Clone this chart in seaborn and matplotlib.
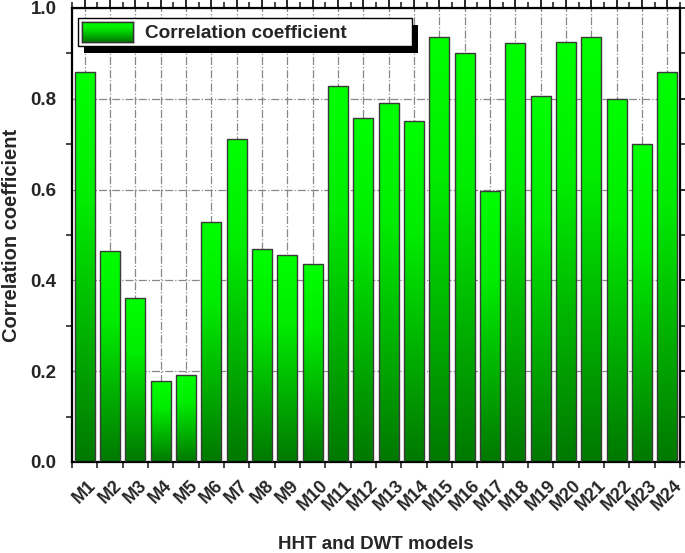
import matplotlib
matplotlib.use('Agg')
import matplotlib.pyplot as plt
import seaborn as sns
import numpy as np
import pandas as pd
from matplotlib.colors import LinearSegmentedColormap
from matplotlib.patches import Rectangle
from matplotlib.ticker import MultipleLocator, FixedLocator

models = ['M%d' % i for i in range(1, 25)]
corr = [0.858, 0.465, 0.361, 0.178, 0.192, 0.529, 0.711, 0.470, 0.456, 0.436,
        0.828, 0.758, 0.790, 0.750, 0.937, 0.901, 0.597, 0.923, 0.807, 0.926,
        0.937, 0.800, 0.701, 0.858]

df = pd.DataFrame({'model': models, 'corr': corr})

sns.set_style('white')
plt.rcParams['font.family'] = ['Liberation Sans', 'DejaVu Sans']
plt.rcParams['font.weight'] = 'bold'

green = LinearSegmentedColormap.from_list(
    'grn', ['#007800', '#00b200', '#00ec00', '#00ff00'])
grad = np.linspace(0, 1, 256).reshape(-1, 1)

fig = plt.figure(figsize=(6.85, 5.53), dpi=100)
ax = fig.add_axes([0.1051, 0.1646, 0.8876, 0.821])

sns.barplot(data=df, x='model', y='corr', ax=ax, color='#00ff00',
            width=0.79, edgecolor='#3a3a3a', linewidth=1.0, zorder=3)

# gradient fill for every bar
for p in ax.patches:
    x, y = p.get_x(), p.get_y()
    w, h = p.get_width(), p.get_height()
    im = ax.imshow(grad, cmap=green, origin='lower', aspect='auto',
                   extent=[x, x + w, y, y + h], zorder=2.5)
    im.set_clip_path(p)
    p.set_facecolor('none')

ax.set_xlim(-0.5, len(models) - 0.5)
ax.set_ylim(0, 1.0)

ax.yaxis.set_major_locator(MultipleLocator(0.2))
ax.yaxis.set_minor_locator(MultipleLocator(0.1))
ax.xaxis.set_minor_locator(FixedLocator(np.arange(-0.5, len(models), 1.0)))
ax.yaxis.set_major_formatter(matplotlib.ticker.FormatStrFormatter('%.1f'))

ax.grid(True, which='major', color='#888888', linestyle='-.', linewidth=0.9)
ax.set_axisbelow(True)

for s in ax.spines.values():
    s.set_linewidth(1.6)
    s.set_color('black')

ax.tick_params(which='major', direction='out', length=8, width=1.4,
               top=True, right=True, labelsize=13.5, pad=3)
ax.tick_params(which='minor', direction='out', length=4, width=1.2,
               top=True, right=True, bottom=True, left=True)
plt.setp(ax.get_xticklabels(), rotation=45, ha='center', va='top',
         fontweight='bold', fontsize=13)
plt.setp(ax.get_yticklabels(), fontweight='bold')

ax.set_xlabel('HHT and DWT models', fontsize=13.5, fontweight='bold', labelpad=16)
ax.set_ylabel('Correlation coefficient', fontsize=14.5, fontweight='bold',
              labelpad=7)

leg = ax.legend([Rectangle((0, 0), 1, 1, facecolor='none', edgecolor='#333333')],
                ['Correlation coefficient'],
                loc='upper left', bbox_to_anchor=(0.01, 0.978, 0.549, 0.0),
                mode='expand', fancybox=False, framealpha=1, edgecolor='black',
                prop={'weight': 'bold', 'size': 13.7}, handlelength=2.7,
                handleheight=1.25, borderpad=0.2, handletextpad=0.6,
                borderaxespad=0)
leg.get_frame().set_linewidth(1.0)

fig.canvas.draw()
inv = ax.transAxes.inverted()
bb = leg.get_frame().get_window_extent()
(x0, y0), (x1, y1) = inv.transform([[bb.x0 + 6, bb.y0 - 7], [bb.x1 + 6, bb.y1 - 7]])
ax.add_patch(Rectangle((x0, y0), x1 - x0, y1 - y0, transform=ax.transAxes,
                       facecolor='black', edgecolor='none', zorder=4.9,
                       clip_on=False))

hb = leg.legend_handles[0].get_window_extent()
fb = fig.transFigure.inverted().transform([[hb.x0, hb.y0], [hb.x1, hb.y1]])
hax = fig.add_axes([fb[0, 0], fb[0, 1], fb[1, 0] - fb[0, 0], fb[1, 1] - fb[0, 1]])
hax.imshow(grad, cmap=green, origin='lower', aspect='auto')
hax.set_xticks([])
hax.set_yticks([])
for s in hax.spines.values():
    s.set_color('#333333')
    s.set_linewidth(1.0)

fig.savefig('out.png', dpi=100)
